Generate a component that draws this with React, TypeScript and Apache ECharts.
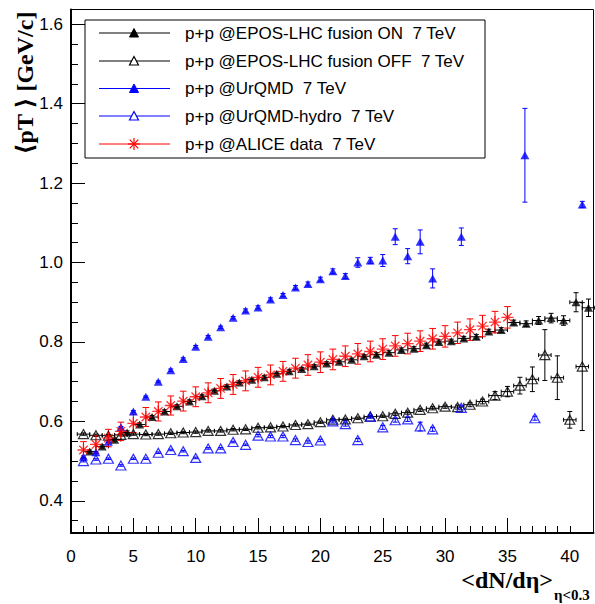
import React, { useEffect, useRef } from 'react';
import * as echarts from 'echarts';

// ---- axis ranges / ticks ----
const X_MIN = 0;
const X_MAX = 41.9;
const Y_MIN = 0.319;
const Y_MAX = 1.637;
const xMajorTicks = [0, 5, 10, 15, 20, 25, 30, 35];
const xLabels = [0, 5, 10, 15, 20, 25, 30, 35, 40];
const xMinorTicks = [1, 2, 3, 4, 6, 7, 8, 9, 11, 12, 13, 14, 16, 17, 18, 19, 21, 22, 23, 24, 26, 27, 28, 29, 31, 32, 33, 34, 36, 37, 38, 39, 40];
const yMajorTicks = [0.4, 0.6, 0.8, 1.0, 1.2, 1.4, 1.6];
const yMinorTicks = [0.35, 0.45, 0.5, 0.55, 0.65, 0.7, 0.75, 0.85, 0.9, 0.95, 1.05, 1.1, 1.15, 1.25, 1.3, 1.35, 1.45, 1.5, 1.55];

// ---- EPOS-LHC fusion ON ----
const eposOnX = [1.5, 2.5, 3.5, 4.5, 5.5, 6.5, 7.5, 8.5, 9.5, 10.5, 11.5, 12.5, 13.5, 14.5, 15.5, 16.5, 17.5, 18.5, 19.5, 20.5, 21.5, 22.5, 23.5, 24.5, 25.5, 26.5, 27.5, 28.5, 29.5, 30.5, 31.5, 32.5, 33.5, 34.5, 35.5, 36.5, 37.5, 38.5, 39.5, 40.5, 41.5];
const eposOnY = [0.524, 0.537, 0.554, 0.572, 0.592, 0.611, 0.625, 0.638, 0.650, 0.663, 0.677, 0.688, 0.698, 0.705, 0.711, 0.720, 0.726, 0.732, 0.739, 0.746, 0.750, 0.755, 0.764, 0.768, 0.773, 0.780, 0.783, 0.792, 0.800, 0.802, 0.809, 0.813, 0.826, 0.830, 0.849, 0.846, 0.854, 0.860, 0.854, 0.900, 0.886];
const eposOnErr = [0.004, 0.004, 0.004, 0.004, 0.004, 0.004, 0.004, 0.004, 0.004, 0.004, 0.004, 0.004, 0.004, 0.004, 0.004, 0.004, 0.004, 0.004, 0.004, 0.004, 0.004, 0.004, 0.004, 0.005, 0.005, 0.005, 0.005, 0.005, 0.005, 0.005, 0.005, 0.006, 0.006, 0.006, 0.006, 0.007, 0.010, 0.012, 0.012, 0.024, 0.022];

// ---- EPOS-LHC fusion OFF ----
const eposOffX = [1, 2, 3, 4, 5, 6, 7, 8, 9, 10, 11, 12, 13, 14, 15, 16, 17, 18, 19, 20, 21, 22, 23, 24, 25, 26, 27, 28, 29, 30, 31, 32, 33, 34, 35, 36, 37, 38, 39, 40, 41];
const eposOffY = [0.568, 0.565, 0.564, 0.566, 0.568, 0.567, 0.568, 0.570, 0.572, 0.573, 0.576, 0.576, 0.579, 0.580, 0.584, 0.585, 0.587, 0.591, 0.593, 0.598, 0.604, 0.605, 0.608, 0.612, 0.613, 0.619, 0.622, 0.629, 0.633, 0.637, 0.636, 0.642, 0.650, 0.665, 0.675, 0.690, 0.706, 0.767, 0.710, 0.604, 0.738];
const eposOffErr = [0.003, 0.003, 0.003, 0.003, 0.003, 0.003, 0.003, 0.003, 0.003, 0.003, 0.003, 0.003, 0.003, 0.003, 0.003, 0.003, 0.003, 0.003, 0.003, 0.003, 0.003, 0.003, 0.003, 0.003, 0.003, 0.004, 0.004, 0.004, 0.004, 0.004, 0.005, 0.005, 0.006, 0.010, 0.013, 0.021, 0.031, 0.064, 0.055, 0.021, 0.161];

// ---- UrQMD ----
const urqmdX = [1, 2, 3, 4, 5, 6, 7, 8, 9, 10, 11, 12, 13, 14, 15, 16, 17, 18, 19, 20, 21, 22, 23, 24, 25, 26, 27, 28, 29, 31.3, 36.4, 41.0];
const urqmdY = [0.511, 0.522, 0.549, 0.585, 0.625, 0.662, 0.700, 0.729, 0.757, 0.788, 0.813, 0.837, 0.861, 0.879, 0.887, 0.907, 0.918, 0.937, 0.946, 0.958, 0.978, 0.966, 1.000, 1.005, 1.005, 1.065, 1.016, 1.052, 0.960, 1.065, 1.270, 1.146];
const urqmdErr = [0.002, 0.002, 0.002, 0.002, 0.002, 0.002, 0.002, 0.003, 0.003, 0.003, 0.003, 0.003, 0.003, 0.004, 0.004, 0.004, 0.004, 0.005, 0.005, 0.005, 0.006, 0.006, 0.012, 0.008, 0.015, 0.020, 0.019, 0.030, 0.024, 0.022, 0.118, 0.008];

// ---- UrQMD-hydro ----
const hydroX = [1, 2, 3, 4, 5, 6, 7, 8, 9, 10, 11, 12, 13, 14, 15, 16, 17, 18, 19, 20, 21, 22, 23, 24, 25, 26, 27, 28, 29, 31.3, 37.2];
const hydroY = [0.500, 0.504, 0.506, 0.489, 0.506, 0.506, 0.521, 0.528, 0.525, 0.508, 0.532, 0.532, 0.548, 0.541, 0.564, 0.562, 0.562, 0.553, 0.548, 0.552, 0.600, 0.593, 0.553, 0.612, 0.585, 0.603, 0.605, 0.587, 0.580, 0.634, 0.608];
const hydroErr = [0.002, 0.002, 0.002, 0.002, 0.002, 0.002, 0.002, 0.002, 0.002, 0.002, 0.002, 0.002, 0.002, 0.002, 0.003, 0.003, 0.003, 0.003, 0.003, 0.003, 0.004, 0.005, 0.004, 0.004, 0.005, 0.005, 0.005, 0.011, 0.005, 0.005, 0.005];

// ---- ALICE data ----
const aliceX = [1, 2, 3, 4, 5, 6, 7, 8, 9, 10, 11, 12, 13, 14, 15, 16, 17, 18, 19, 20, 21, 22, 23, 24, 25, 26, 27, 28, 29, 30, 31, 32, 33, 34, 35];
const aliceY = [0.528, 0.542, 0.558, 0.575, 0.595, 0.611, 0.625, 0.640, 0.651, 0.662, 0.672, 0.683, 0.693, 0.702, 0.711, 0.717, 0.726, 0.734, 0.742, 0.749, 0.756, 0.764, 0.770, 0.776, 0.782, 0.790, 0.796, 0.802, 0.808, 0.814, 0.823, 0.831, 0.840, 0.850, 0.862];
const aliceErr = [0.021, 0.022, 0.022, 0.023, 0.023, 0.024, 0.024, 0.024, 0.025, 0.025, 0.025, 0.025, 0.025, 0.025, 0.025, 0.025, 0.025, 0.025, 0.026, 0.026, 0.026, 0.026, 0.026, 0.026, 0.026, 0.026, 0.026, 0.026, 0.026, 0.027, 0.027, 0.027, 0.027, 0.027, 0.027];

const legendLabels = [
  'p+p @EPOS-LHC fusion ON  7 TeV',
  'p+p @EPOS-LHC fusion OFF  7 TeV',
  'p+p @UrQMD  7 TeV',
  'p+p @UrQMD-hydro  7 TeV',
  'p+p @ALICE data  7 TeV',
];

const BLACK = '#000000';
const BLUE = '#0000ff';
const RED = '#ff0000';
const STAR = 'path://M10 0L10 20M0 10L20 10M3 3L17 17M3 17L17 3';
const SANS = '"Liberation Sans", Arial, Helvetica, sans-serif';
const SERIF = '"Liberation Serif", "DejaVu Serif", "Times New Roman", serif';

function errSeries(xs: number[], ys: number[], es: number[], xe: number, color: string, cap: number) {
  return {
    type: 'custom',
    xAxisIndex: 0,
    yAxisIndex: 0,
    silent: true,
    data: xs.map((x, i) => [x, ys[i], es[i], xe]),
    renderItem: (params: any, api: any) => {
      const x = api.value(0);
      const y = api.value(1);
      const e = api.value(2);
      const ex = api.value(3);
      const top = api.coord([x, y + e]);
      const bot = api.coord([x, y - e]);
      const st = { stroke: color, lineWidth: 1 };
      const children: any[] = [
        { type: 'line', shape: { x1: top[0], y1: top[1], x2: bot[0], y2: bot[1] }, style: st },
        { type: 'line', shape: { x1: top[0] - cap, y1: top[1], x2: top[0] + cap, y2: top[1] }, style: st },
        { type: 'line', shape: { x1: bot[0] - cap, y1: bot[1], x2: bot[0] + cap, y2: bot[1] }, style: st },
      ];
      if (ex > 0) {
        const l = api.coord([x - ex, y]);
        const r = api.coord([x + ex, y]);
        children.push({ type: 'line', shape: { x1: l[0], y1: l[1], x2: r[0], y2: r[1] }, style: st });
        children.push({ type: 'line', shape: { x1: l[0], y1: l[1] - 2, x2: l[0], y2: l[1] + 2 }, style: st });
        children.push({ type: 'line', shape: { x1: r[0], y1: r[1] - 2, x2: r[0], y2: r[1] + 2 }, style: st });
      }
      return { type: 'group', children };
    },
  };
}

function scatter(name: string, xs: number[], ys: number[], symbol: string, size: any, itemStyle: any) {
  return {
    name,
    type: 'scatter',
    xAxisIndex: 0,
    yAxisIndex: 0,
    symbol,
    symbolSize: size,
    itemStyle,
    silent: true,
    data: xs.map((x, i) => [x, ys[i]]),
  };
}

function legendGraphic() {
  const left = 85, top = 20, w = 400, h = 138;
  const rows = [33, 61, 88.5, 116, 144];
  const colors = [BLACK, BLACK, BLUE, BLUE, RED];
  const children: any[] = [
    { type: 'rect', shape: { x: left, y: top, width: w, height: h }, style: { fill: '#fff', stroke: '#000', lineWidth: 1 } },
  ];
  rows.forEach((y, i) => {
    const c = colors[i];
    children.push({ type: 'line', shape: { x1: 99, y1: y, x2: 170, y2: y }, style: { stroke: c, lineWidth: 1 } });
    const mx = 134;
    if (i < 4) {
      const filled = i === 0 || i === 2;
      children.push({
        type: 'polygon',
        shape: { points: [[mx - 4.5, y + 4], [mx + 4.5, y + 4], [mx, y - 4.5]] },
        style: filled ? { fill: c, stroke: c, lineWidth: 1 } : { fill: '#fff', stroke: c, lineWidth: 1.2 },
      });
    } else {
      const s = 6, d = 4.3;
      [[0, -s, 0, s], [-s, 0, s, 0], [-d, -d, d, d], [-d, d, d, -d]].forEach((p) => {
        children.push({ type: 'line', shape: { x1: mx + p[0], y1: y + p[1], x2: mx + p[2], y2: y + p[3] }, style: { stroke: c, lineWidth: 1.2 } });
      });
    }
    children.push({
      type: 'text',
      x: 185,
      y,
      style: { text: legendLabels[i], font: `17px ${SANS}`, fill: '#000', textAlign: 'left', textVerticalAlign: 'middle' },
    });
  });
  return { type: 'group', z: 100, children };
}

const axisLabelStyle = { color: '#000', fontSize: 17, fontFamily: SANS };

export default function App() {
  const ref = useRef<HTMLDivElement>(null);
  useEffect(() => {
    const chart = echarts.init(ref.current as HTMLDivElement, null, { renderer: 'svg' });
    const option: any = {
      animation: false,
      backgroundColor: '#fff',
      grid: {
        left: 71,
        right: 1.5,
        top: 9.5,
        bottom: 71,
        show: true,
        borderColor: '#000',
        borderWidth: 1,
        containLabel: false,
        outerBoundsMode: 'none',
      },
      xAxis: [
        {
          type: 'value',
          min: X_MIN,
          max: X_MAX,
          position: 'bottom',
          axisLine: { show: true, onZero: false, lineStyle: { color: '#000', width: 2 } },
          axisTick: { show: true, inside: true, length: 15, customValues: xMajorTicks, lineStyle: { color: '#000', width: 1 } },
          axisLabel: { show: true, customValues: xLabels, margin: 15, formatter: (v: number) => String(v), ...axisLabelStyle },
          splitLine: { show: false },
        },
        {
          type: 'value',
          min: X_MIN,
          max: X_MAX,
          position: 'bottom',
          axisLine: { show: false },
          axisTick: { show: true, inside: true, length: 7, customValues: xMinorTicks, lineStyle: { color: '#000', width: 1 } },
          axisLabel: { show: false },
          splitLine: { show: false },
        },
      ],
      yAxis: [
        {
          type: 'value',
          min: Y_MIN,
          max: Y_MAX,
          position: 'left',
          axisLine: { show: true, onZero: false, lineStyle: { color: '#000', width: 2 } },
          axisTick: { show: true, inside: true, length: 14, customValues: yMajorTicks, lineStyle: { color: '#000', width: 1 } },
          axisLabel: { show: true, customValues: yMajorTicks, margin: 8, formatter: (v: number) => v.toFixed(1), ...axisLabelStyle },
          splitLine: { show: false },
        },
        {
          type: 'value',
          min: Y_MIN,
          max: Y_MAX,
          position: 'left',
          axisLine: { show: false },
          axisTick: { show: true, inside: true, length: 7, customValues: yMinorTicks, lineStyle: { color: '#000', width: 1 } },
          axisLabel: { show: false },
          splitLine: { show: false },
        },
      ],
      series: [
        errSeries(eposOffX, eposOffY, eposOffErr, 0.5, BLACK, 2.5),
        scatter('EPOS OFF', eposOffX, eposOffY, 'triangle', [10, 9], { color: 'rgba(0,0,0,0)', borderColor: BLACK, borderWidth: 1.2 }),
        errSeries(eposOnX, eposOnY, eposOnErr, 0.5, BLACK, 2.5),
        scatter('EPOS ON', eposOnX, eposOnY, 'triangle', [9, 8], { color: BLACK }),
        errSeries(urqmdX, urqmdY, urqmdErr, 0, BLUE, 2.5),
        scatter('UrQMD', urqmdX, urqmdY, 'triangle', [9, 8], { color: BLUE }),
        errSeries(hydroX, hydroY, hydroErr, 0, BLUE, 2.5),
        scatter('UrQMD-hydro', hydroX, hydroY, 'triangle', [10, 9], { color: 'rgba(0,0,0,0)', borderColor: BLUE, borderWidth: 1.2 }),
        errSeries(aliceX, aliceY, aliceErr, 0, RED, 3.3),
        scatter('ALICE', aliceX, aliceY, STAR, 12, { color: 'rgba(0,0,0,0)', borderColor: RED, borderWidth: 1.3 }),
      ],
      graphic: [
        legendGraphic(),
        {
          type: 'text',
          x: 25,
          y: 83,
          rotation: Math.PI / 2,
          style: { text: '⟨pT ⟩ [GeV/c]', font: `bold 24px ${SERIF}`, fill: '#000', textAlign: 'center', textVerticalAlign: 'middle' },
        },
        {
          type: 'text',
          x: 553,
          y: 580,
          style: { text: '<dN/dη>', font: `bold 24px ${SERIF}`, fill: '#000', textAlign: 'right', textVerticalAlign: 'middle' },
        },
        {
          type: 'text',
          x: 554,
          y: 595,
          style: { text: 'η<0.3', font: `bold 15px ${SERIF}`, fill: '#000', textAlign: 'left', textVerticalAlign: 'middle' },
        },
      ],
    };
    chart.setOption(option);
    return () => chart.dispose();
  }, []);
  return <div ref={ref} style={{ position: 'absolute', left: 0, top: 0, width: 595, height: 604 }} />;
}
